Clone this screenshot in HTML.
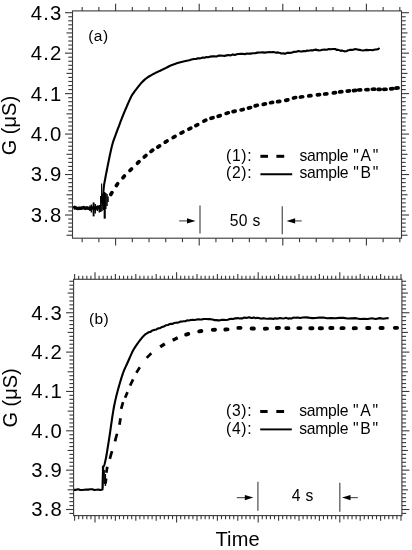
<!DOCTYPE html>
<html><head><meta charset="utf-8"><style>
html,body{margin:0;padding:0;background:#fff;}
body{width:412px;height:550px;overflow:hidden;}
svg{display:block;filter:blur(0.3px);}
text{font-family:"Liberation Sans",sans-serif;fill:#000;}
.tl{font-size:20.3px;letter-spacing:1.1px;}
.lp{font-size:15.7px;letter-spacing:0.7px;}
.lg{font-size:15.7px;letter-spacing:0.25px;}
.lg0{font-size:15.7px;letter-spacing:-0.3px;}
.lq{font-size:15.7px;letter-spacing:1.7px;}
.pl{font-size:15.5px;letter-spacing:0.4px;}
.ax{font-size:20px;}
</style></head><body>
<svg width="412" height="550" viewBox="0 0 412 550">
<rect x="72.5" y="10.9" width="329" height="227.3" fill="none" stroke="#3a3a3a" stroke-width="1.1"/>
<line x1="66.5" y1="235.23" x2="72.5" y2="235.23" stroke="#383838" stroke-width="1.1"/>
<line x1="401.5" y1="235.23" x2="407.5" y2="235.23" stroke="#383838" stroke-width="1.1"/>
<line x1="68.3" y1="231.18" x2="72.5" y2="231.18" stroke="#383838" stroke-width="1.1"/>
<line x1="401.5" y1="231.18" x2="405.7" y2="231.18" stroke="#383838" stroke-width="1.1"/>
<line x1="68.3" y1="227.14" x2="72.5" y2="227.14" stroke="#383838" stroke-width="1.1"/>
<line x1="401.5" y1="227.14" x2="405.7" y2="227.14" stroke="#383838" stroke-width="1.1"/>
<line x1="68.3" y1="223.09" x2="72.5" y2="223.09" stroke="#383838" stroke-width="1.1"/>
<line x1="401.5" y1="223.09" x2="405.7" y2="223.09" stroke="#383838" stroke-width="1.1"/>
<line x1="68.3" y1="219.05" x2="72.5" y2="219.05" stroke="#383838" stroke-width="1.1"/>
<line x1="401.5" y1="219.05" x2="405.7" y2="219.05" stroke="#383838" stroke-width="1.1"/>
<line x1="65" y1="215" x2="72.5" y2="215" stroke="#383838" stroke-width="1.1"/>
<line x1="401.5" y1="215" x2="409" y2="215" stroke="#383838" stroke-width="1.1"/>
<line x1="68.3" y1="210.95" x2="72.5" y2="210.95" stroke="#383838" stroke-width="1.1"/>
<line x1="401.5" y1="210.95" x2="405.7" y2="210.95" stroke="#383838" stroke-width="1.1"/>
<line x1="68.3" y1="206.91" x2="72.5" y2="206.91" stroke="#383838" stroke-width="1.1"/>
<line x1="401.5" y1="206.91" x2="405.7" y2="206.91" stroke="#383838" stroke-width="1.1"/>
<line x1="68.3" y1="202.86" x2="72.5" y2="202.86" stroke="#383838" stroke-width="1.1"/>
<line x1="401.5" y1="202.86" x2="405.7" y2="202.86" stroke="#383838" stroke-width="1.1"/>
<line x1="68.3" y1="198.82" x2="72.5" y2="198.82" stroke="#383838" stroke-width="1.1"/>
<line x1="401.5" y1="198.82" x2="405.7" y2="198.82" stroke="#383838" stroke-width="1.1"/>
<line x1="66.5" y1="194.77" x2="72.5" y2="194.77" stroke="#383838" stroke-width="1.1"/>
<line x1="401.5" y1="194.77" x2="407.5" y2="194.77" stroke="#383838" stroke-width="1.1"/>
<line x1="68.3" y1="190.72" x2="72.5" y2="190.72" stroke="#383838" stroke-width="1.1"/>
<line x1="401.5" y1="190.72" x2="405.7" y2="190.72" stroke="#383838" stroke-width="1.1"/>
<line x1="68.3" y1="186.68" x2="72.5" y2="186.68" stroke="#383838" stroke-width="1.1"/>
<line x1="401.5" y1="186.68" x2="405.7" y2="186.68" stroke="#383838" stroke-width="1.1"/>
<line x1="68.3" y1="182.63" x2="72.5" y2="182.63" stroke="#383838" stroke-width="1.1"/>
<line x1="401.5" y1="182.63" x2="405.7" y2="182.63" stroke="#383838" stroke-width="1.1"/>
<line x1="68.3" y1="178.59" x2="72.5" y2="178.59" stroke="#383838" stroke-width="1.1"/>
<line x1="401.5" y1="178.59" x2="405.7" y2="178.59" stroke="#383838" stroke-width="1.1"/>
<line x1="65" y1="174.54" x2="72.5" y2="174.54" stroke="#383838" stroke-width="1.1"/>
<line x1="401.5" y1="174.54" x2="409" y2="174.54" stroke="#383838" stroke-width="1.1"/>
<line x1="68.3" y1="170.49" x2="72.5" y2="170.49" stroke="#383838" stroke-width="1.1"/>
<line x1="401.5" y1="170.49" x2="405.7" y2="170.49" stroke="#383838" stroke-width="1.1"/>
<line x1="68.3" y1="166.45" x2="72.5" y2="166.45" stroke="#383838" stroke-width="1.1"/>
<line x1="401.5" y1="166.45" x2="405.7" y2="166.45" stroke="#383838" stroke-width="1.1"/>
<line x1="68.3" y1="162.4" x2="72.5" y2="162.4" stroke="#383838" stroke-width="1.1"/>
<line x1="401.5" y1="162.4" x2="405.7" y2="162.4" stroke="#383838" stroke-width="1.1"/>
<line x1="68.3" y1="158.36" x2="72.5" y2="158.36" stroke="#383838" stroke-width="1.1"/>
<line x1="401.5" y1="158.36" x2="405.7" y2="158.36" stroke="#383838" stroke-width="1.1"/>
<line x1="66.5" y1="154.31" x2="72.5" y2="154.31" stroke="#383838" stroke-width="1.1"/>
<line x1="401.5" y1="154.31" x2="407.5" y2="154.31" stroke="#383838" stroke-width="1.1"/>
<line x1="68.3" y1="150.26" x2="72.5" y2="150.26" stroke="#383838" stroke-width="1.1"/>
<line x1="401.5" y1="150.26" x2="405.7" y2="150.26" stroke="#383838" stroke-width="1.1"/>
<line x1="68.3" y1="146.22" x2="72.5" y2="146.22" stroke="#383838" stroke-width="1.1"/>
<line x1="401.5" y1="146.22" x2="405.7" y2="146.22" stroke="#383838" stroke-width="1.1"/>
<line x1="68.3" y1="142.17" x2="72.5" y2="142.17" stroke="#383838" stroke-width="1.1"/>
<line x1="401.5" y1="142.17" x2="405.7" y2="142.17" stroke="#383838" stroke-width="1.1"/>
<line x1="68.3" y1="138.13" x2="72.5" y2="138.13" stroke="#383838" stroke-width="1.1"/>
<line x1="401.5" y1="138.13" x2="405.7" y2="138.13" stroke="#383838" stroke-width="1.1"/>
<line x1="65" y1="134.08" x2="72.5" y2="134.08" stroke="#383838" stroke-width="1.1"/>
<line x1="401.5" y1="134.08" x2="409" y2="134.08" stroke="#383838" stroke-width="1.1"/>
<line x1="68.3" y1="130.03" x2="72.5" y2="130.03" stroke="#383838" stroke-width="1.1"/>
<line x1="401.5" y1="130.03" x2="405.7" y2="130.03" stroke="#383838" stroke-width="1.1"/>
<line x1="68.3" y1="125.99" x2="72.5" y2="125.99" stroke="#383838" stroke-width="1.1"/>
<line x1="401.5" y1="125.99" x2="405.7" y2="125.99" stroke="#383838" stroke-width="1.1"/>
<line x1="68.3" y1="121.94" x2="72.5" y2="121.94" stroke="#383838" stroke-width="1.1"/>
<line x1="401.5" y1="121.94" x2="405.7" y2="121.94" stroke="#383838" stroke-width="1.1"/>
<line x1="68.3" y1="117.9" x2="72.5" y2="117.9" stroke="#383838" stroke-width="1.1"/>
<line x1="401.5" y1="117.9" x2="405.7" y2="117.9" stroke="#383838" stroke-width="1.1"/>
<line x1="66.5" y1="113.85" x2="72.5" y2="113.85" stroke="#383838" stroke-width="1.1"/>
<line x1="401.5" y1="113.85" x2="407.5" y2="113.85" stroke="#383838" stroke-width="1.1"/>
<line x1="68.3" y1="109.8" x2="72.5" y2="109.8" stroke="#383838" stroke-width="1.1"/>
<line x1="401.5" y1="109.8" x2="405.7" y2="109.8" stroke="#383838" stroke-width="1.1"/>
<line x1="68.3" y1="105.76" x2="72.5" y2="105.76" stroke="#383838" stroke-width="1.1"/>
<line x1="401.5" y1="105.76" x2="405.7" y2="105.76" stroke="#383838" stroke-width="1.1"/>
<line x1="68.3" y1="101.71" x2="72.5" y2="101.71" stroke="#383838" stroke-width="1.1"/>
<line x1="401.5" y1="101.71" x2="405.7" y2="101.71" stroke="#383838" stroke-width="1.1"/>
<line x1="68.3" y1="97.67" x2="72.5" y2="97.67" stroke="#383838" stroke-width="1.1"/>
<line x1="401.5" y1="97.67" x2="405.7" y2="97.67" stroke="#383838" stroke-width="1.1"/>
<line x1="65" y1="93.62" x2="72.5" y2="93.62" stroke="#383838" stroke-width="1.1"/>
<line x1="401.5" y1="93.62" x2="409" y2="93.62" stroke="#383838" stroke-width="1.1"/>
<line x1="68.3" y1="89.57" x2="72.5" y2="89.57" stroke="#383838" stroke-width="1.1"/>
<line x1="401.5" y1="89.57" x2="405.7" y2="89.57" stroke="#383838" stroke-width="1.1"/>
<line x1="68.3" y1="85.53" x2="72.5" y2="85.53" stroke="#383838" stroke-width="1.1"/>
<line x1="401.5" y1="85.53" x2="405.7" y2="85.53" stroke="#383838" stroke-width="1.1"/>
<line x1="68.3" y1="81.48" x2="72.5" y2="81.48" stroke="#383838" stroke-width="1.1"/>
<line x1="401.5" y1="81.48" x2="405.7" y2="81.48" stroke="#383838" stroke-width="1.1"/>
<line x1="68.3" y1="77.44" x2="72.5" y2="77.44" stroke="#383838" stroke-width="1.1"/>
<line x1="401.5" y1="77.44" x2="405.7" y2="77.44" stroke="#383838" stroke-width="1.1"/>
<line x1="66.5" y1="73.39" x2="72.5" y2="73.39" stroke="#383838" stroke-width="1.1"/>
<line x1="401.5" y1="73.39" x2="407.5" y2="73.39" stroke="#383838" stroke-width="1.1"/>
<line x1="68.3" y1="69.34" x2="72.5" y2="69.34" stroke="#383838" stroke-width="1.1"/>
<line x1="401.5" y1="69.34" x2="405.7" y2="69.34" stroke="#383838" stroke-width="1.1"/>
<line x1="68.3" y1="65.3" x2="72.5" y2="65.3" stroke="#383838" stroke-width="1.1"/>
<line x1="401.5" y1="65.3" x2="405.7" y2="65.3" stroke="#383838" stroke-width="1.1"/>
<line x1="68.3" y1="61.25" x2="72.5" y2="61.25" stroke="#383838" stroke-width="1.1"/>
<line x1="401.5" y1="61.25" x2="405.7" y2="61.25" stroke="#383838" stroke-width="1.1"/>
<line x1="68.3" y1="57.21" x2="72.5" y2="57.21" stroke="#383838" stroke-width="1.1"/>
<line x1="401.5" y1="57.21" x2="405.7" y2="57.21" stroke="#383838" stroke-width="1.1"/>
<line x1="65" y1="53.16" x2="72.5" y2="53.16" stroke="#383838" stroke-width="1.1"/>
<line x1="401.5" y1="53.16" x2="409" y2="53.16" stroke="#383838" stroke-width="1.1"/>
<line x1="68.3" y1="49.11" x2="72.5" y2="49.11" stroke="#383838" stroke-width="1.1"/>
<line x1="401.5" y1="49.11" x2="405.7" y2="49.11" stroke="#383838" stroke-width="1.1"/>
<line x1="68.3" y1="45.07" x2="72.5" y2="45.07" stroke="#383838" stroke-width="1.1"/>
<line x1="401.5" y1="45.07" x2="405.7" y2="45.07" stroke="#383838" stroke-width="1.1"/>
<line x1="68.3" y1="41.02" x2="72.5" y2="41.02" stroke="#383838" stroke-width="1.1"/>
<line x1="401.5" y1="41.02" x2="405.7" y2="41.02" stroke="#383838" stroke-width="1.1"/>
<line x1="68.3" y1="36.98" x2="72.5" y2="36.98" stroke="#383838" stroke-width="1.1"/>
<line x1="401.5" y1="36.98" x2="405.7" y2="36.98" stroke="#383838" stroke-width="1.1"/>
<line x1="66.5" y1="32.93" x2="72.5" y2="32.93" stroke="#383838" stroke-width="1.1"/>
<line x1="401.5" y1="32.93" x2="407.5" y2="32.93" stroke="#383838" stroke-width="1.1"/>
<line x1="68.3" y1="28.88" x2="72.5" y2="28.88" stroke="#383838" stroke-width="1.1"/>
<line x1="401.5" y1="28.88" x2="405.7" y2="28.88" stroke="#383838" stroke-width="1.1"/>
<line x1="68.3" y1="24.84" x2="72.5" y2="24.84" stroke="#383838" stroke-width="1.1"/>
<line x1="401.5" y1="24.84" x2="405.7" y2="24.84" stroke="#383838" stroke-width="1.1"/>
<line x1="68.3" y1="20.79" x2="72.5" y2="20.79" stroke="#383838" stroke-width="1.1"/>
<line x1="401.5" y1="20.79" x2="405.7" y2="20.79" stroke="#383838" stroke-width="1.1"/>
<line x1="68.3" y1="16.75" x2="72.5" y2="16.75" stroke="#383838" stroke-width="1.1"/>
<line x1="401.5" y1="16.75" x2="405.7" y2="16.75" stroke="#383838" stroke-width="1.1"/>
<line x1="65" y1="12.7" x2="72.5" y2="12.7" stroke="#383838" stroke-width="1.1"/>
<line x1="401.5" y1="12.7" x2="409" y2="12.7" stroke="#383838" stroke-width="1.1"/>
<line x1="82.16" y1="6.9" x2="82.16" y2="10.9" stroke="#383838" stroke-width="1.1"/>
<line x1="82.16" y1="238.2" x2="82.16" y2="242.2" stroke="#383838" stroke-width="1.1"/>
<line x1="98.88" y1="6.9" x2="98.88" y2="10.9" stroke="#383838" stroke-width="1.1"/>
<line x1="98.88" y1="238.2" x2="98.88" y2="242.2" stroke="#383838" stroke-width="1.1"/>
<line x1="115.6" y1="3.7" x2="115.6" y2="10.9" stroke="#383838" stroke-width="1.1"/>
<line x1="115.6" y1="238.2" x2="115.6" y2="245.4" stroke="#383838" stroke-width="1.1"/>
<line x1="132.32" y1="6.9" x2="132.32" y2="10.9" stroke="#383838" stroke-width="1.1"/>
<line x1="132.32" y1="238.2" x2="132.32" y2="242.2" stroke="#383838" stroke-width="1.1"/>
<line x1="149.04" y1="6.9" x2="149.04" y2="10.9" stroke="#383838" stroke-width="1.1"/>
<line x1="149.04" y1="238.2" x2="149.04" y2="242.2" stroke="#383838" stroke-width="1.1"/>
<line x1="165.76" y1="6.9" x2="165.76" y2="10.9" stroke="#383838" stroke-width="1.1"/>
<line x1="165.76" y1="238.2" x2="165.76" y2="242.2" stroke="#383838" stroke-width="1.1"/>
<line x1="182.48" y1="6.9" x2="182.48" y2="10.9" stroke="#383838" stroke-width="1.1"/>
<line x1="182.48" y1="238.2" x2="182.48" y2="242.2" stroke="#383838" stroke-width="1.1"/>
<line x1="199.2" y1="3.7" x2="199.2" y2="10.9" stroke="#383838" stroke-width="1.1"/>
<line x1="199.2" y1="238.2" x2="199.2" y2="245.4" stroke="#383838" stroke-width="1.1"/>
<line x1="215.92" y1="6.9" x2="215.92" y2="10.9" stroke="#383838" stroke-width="1.1"/>
<line x1="215.92" y1="238.2" x2="215.92" y2="242.2" stroke="#383838" stroke-width="1.1"/>
<line x1="232.64" y1="6.9" x2="232.64" y2="10.9" stroke="#383838" stroke-width="1.1"/>
<line x1="232.64" y1="238.2" x2="232.64" y2="242.2" stroke="#383838" stroke-width="1.1"/>
<line x1="249.36" y1="6.9" x2="249.36" y2="10.9" stroke="#383838" stroke-width="1.1"/>
<line x1="249.36" y1="238.2" x2="249.36" y2="242.2" stroke="#383838" stroke-width="1.1"/>
<line x1="266.08" y1="6.9" x2="266.08" y2="10.9" stroke="#383838" stroke-width="1.1"/>
<line x1="266.08" y1="238.2" x2="266.08" y2="242.2" stroke="#383838" stroke-width="1.1"/>
<line x1="282.8" y1="3.7" x2="282.8" y2="10.9" stroke="#383838" stroke-width="1.1"/>
<line x1="282.8" y1="238.2" x2="282.8" y2="245.4" stroke="#383838" stroke-width="1.1"/>
<line x1="299.52" y1="6.9" x2="299.52" y2="10.9" stroke="#383838" stroke-width="1.1"/>
<line x1="299.52" y1="238.2" x2="299.52" y2="242.2" stroke="#383838" stroke-width="1.1"/>
<line x1="316.24" y1="6.9" x2="316.24" y2="10.9" stroke="#383838" stroke-width="1.1"/>
<line x1="316.24" y1="238.2" x2="316.24" y2="242.2" stroke="#383838" stroke-width="1.1"/>
<line x1="332.96" y1="6.9" x2="332.96" y2="10.9" stroke="#383838" stroke-width="1.1"/>
<line x1="332.96" y1="238.2" x2="332.96" y2="242.2" stroke="#383838" stroke-width="1.1"/>
<line x1="349.68" y1="6.9" x2="349.68" y2="10.9" stroke="#383838" stroke-width="1.1"/>
<line x1="349.68" y1="238.2" x2="349.68" y2="242.2" stroke="#383838" stroke-width="1.1"/>
<line x1="366.4" y1="3.7" x2="366.4" y2="10.9" stroke="#383838" stroke-width="1.1"/>
<line x1="366.4" y1="238.2" x2="366.4" y2="245.4" stroke="#383838" stroke-width="1.1"/>
<line x1="383.12" y1="6.9" x2="383.12" y2="10.9" stroke="#383838" stroke-width="1.1"/>
<line x1="383.12" y1="238.2" x2="383.12" y2="242.2" stroke="#383838" stroke-width="1.1"/>
<line x1="399.84" y1="6.9" x2="399.84" y2="10.9" stroke="#383838" stroke-width="1.1"/>
<line x1="399.84" y1="238.2" x2="399.84" y2="242.2" stroke="#383838" stroke-width="1.1"/>
<text x="62.3" y="19.6" class="tl" text-anchor="end">4.3</text>
<text x="62.3" y="60.06" class="tl" text-anchor="end">4.2</text>
<text x="62.3" y="100.52" class="tl" text-anchor="end">4.1</text>
<text x="62.3" y="140.98" class="tl" text-anchor="end">4.0</text>
<text x="62.3" y="181.44" class="tl" text-anchor="end">3.9</text>
<text x="62.3" y="221.9" class="tl" text-anchor="end">3.8</text>
<rect x="73.6" y="279.3" width="328.3" height="236.3" fill="none" stroke="#3a3a3a" stroke-width="1.1"/>
<line x1="69.4" y1="513.43" x2="73.6" y2="513.43" stroke="#383838" stroke-width="1.1"/>
<line x1="401.9" y1="513.43" x2="406.1" y2="513.43" stroke="#383838" stroke-width="1.1"/>
<line x1="66.1" y1="509.5" x2="73.6" y2="509.5" stroke="#383838" stroke-width="1.1"/>
<line x1="401.9" y1="509.5" x2="409.4" y2="509.5" stroke="#383838" stroke-width="1.1"/>
<line x1="69.4" y1="505.56" x2="73.6" y2="505.56" stroke="#383838" stroke-width="1.1"/>
<line x1="401.9" y1="505.56" x2="406.1" y2="505.56" stroke="#383838" stroke-width="1.1"/>
<line x1="69.4" y1="501.63" x2="73.6" y2="501.63" stroke="#383838" stroke-width="1.1"/>
<line x1="401.9" y1="501.63" x2="406.1" y2="501.63" stroke="#383838" stroke-width="1.1"/>
<line x1="69.4" y1="497.69" x2="73.6" y2="497.69" stroke="#383838" stroke-width="1.1"/>
<line x1="401.9" y1="497.69" x2="406.1" y2="497.69" stroke="#383838" stroke-width="1.1"/>
<line x1="69.4" y1="493.76" x2="73.6" y2="493.76" stroke="#383838" stroke-width="1.1"/>
<line x1="401.9" y1="493.76" x2="406.1" y2="493.76" stroke="#383838" stroke-width="1.1"/>
<line x1="67.6" y1="489.82" x2="73.6" y2="489.82" stroke="#383838" stroke-width="1.1"/>
<line x1="401.9" y1="489.82" x2="407.9" y2="489.82" stroke="#383838" stroke-width="1.1"/>
<line x1="69.4" y1="485.89" x2="73.6" y2="485.89" stroke="#383838" stroke-width="1.1"/>
<line x1="401.9" y1="485.89" x2="406.1" y2="485.89" stroke="#383838" stroke-width="1.1"/>
<line x1="69.4" y1="481.95" x2="73.6" y2="481.95" stroke="#383838" stroke-width="1.1"/>
<line x1="401.9" y1="481.95" x2="406.1" y2="481.95" stroke="#383838" stroke-width="1.1"/>
<line x1="69.4" y1="478.02" x2="73.6" y2="478.02" stroke="#383838" stroke-width="1.1"/>
<line x1="401.9" y1="478.02" x2="406.1" y2="478.02" stroke="#383838" stroke-width="1.1"/>
<line x1="69.4" y1="474.08" x2="73.6" y2="474.08" stroke="#383838" stroke-width="1.1"/>
<line x1="401.9" y1="474.08" x2="406.1" y2="474.08" stroke="#383838" stroke-width="1.1"/>
<line x1="66.1" y1="470.15" x2="73.6" y2="470.15" stroke="#383838" stroke-width="1.1"/>
<line x1="401.9" y1="470.15" x2="409.4" y2="470.15" stroke="#383838" stroke-width="1.1"/>
<line x1="69.4" y1="466.21" x2="73.6" y2="466.21" stroke="#383838" stroke-width="1.1"/>
<line x1="401.9" y1="466.21" x2="406.1" y2="466.21" stroke="#383838" stroke-width="1.1"/>
<line x1="69.4" y1="462.28" x2="73.6" y2="462.28" stroke="#383838" stroke-width="1.1"/>
<line x1="401.9" y1="462.28" x2="406.1" y2="462.28" stroke="#383838" stroke-width="1.1"/>
<line x1="69.4" y1="458.34" x2="73.6" y2="458.34" stroke="#383838" stroke-width="1.1"/>
<line x1="401.9" y1="458.34" x2="406.1" y2="458.34" stroke="#383838" stroke-width="1.1"/>
<line x1="69.4" y1="454.41" x2="73.6" y2="454.41" stroke="#383838" stroke-width="1.1"/>
<line x1="401.9" y1="454.41" x2="406.1" y2="454.41" stroke="#383838" stroke-width="1.1"/>
<line x1="67.6" y1="450.47" x2="73.6" y2="450.47" stroke="#383838" stroke-width="1.1"/>
<line x1="401.9" y1="450.47" x2="407.9" y2="450.47" stroke="#383838" stroke-width="1.1"/>
<line x1="69.4" y1="446.54" x2="73.6" y2="446.54" stroke="#383838" stroke-width="1.1"/>
<line x1="401.9" y1="446.54" x2="406.1" y2="446.54" stroke="#383838" stroke-width="1.1"/>
<line x1="69.4" y1="442.6" x2="73.6" y2="442.6" stroke="#383838" stroke-width="1.1"/>
<line x1="401.9" y1="442.6" x2="406.1" y2="442.6" stroke="#383838" stroke-width="1.1"/>
<line x1="69.4" y1="438.67" x2="73.6" y2="438.67" stroke="#383838" stroke-width="1.1"/>
<line x1="401.9" y1="438.67" x2="406.1" y2="438.67" stroke="#383838" stroke-width="1.1"/>
<line x1="69.4" y1="434.73" x2="73.6" y2="434.73" stroke="#383838" stroke-width="1.1"/>
<line x1="401.9" y1="434.73" x2="406.1" y2="434.73" stroke="#383838" stroke-width="1.1"/>
<line x1="66.1" y1="430.8" x2="73.6" y2="430.8" stroke="#383838" stroke-width="1.1"/>
<line x1="401.9" y1="430.8" x2="409.4" y2="430.8" stroke="#383838" stroke-width="1.1"/>
<line x1="69.4" y1="426.87" x2="73.6" y2="426.87" stroke="#383838" stroke-width="1.1"/>
<line x1="401.9" y1="426.87" x2="406.1" y2="426.87" stroke="#383838" stroke-width="1.1"/>
<line x1="69.4" y1="422.93" x2="73.6" y2="422.93" stroke="#383838" stroke-width="1.1"/>
<line x1="401.9" y1="422.93" x2="406.1" y2="422.93" stroke="#383838" stroke-width="1.1"/>
<line x1="69.4" y1="418.99" x2="73.6" y2="418.99" stroke="#383838" stroke-width="1.1"/>
<line x1="401.9" y1="418.99" x2="406.1" y2="418.99" stroke="#383838" stroke-width="1.1"/>
<line x1="69.4" y1="415.06" x2="73.6" y2="415.06" stroke="#383838" stroke-width="1.1"/>
<line x1="401.9" y1="415.06" x2="406.1" y2="415.06" stroke="#383838" stroke-width="1.1"/>
<line x1="67.6" y1="411.12" x2="73.6" y2="411.12" stroke="#383838" stroke-width="1.1"/>
<line x1="401.9" y1="411.12" x2="407.9" y2="411.12" stroke="#383838" stroke-width="1.1"/>
<line x1="69.4" y1="407.19" x2="73.6" y2="407.19" stroke="#383838" stroke-width="1.1"/>
<line x1="401.9" y1="407.19" x2="406.1" y2="407.19" stroke="#383838" stroke-width="1.1"/>
<line x1="69.4" y1="403.25" x2="73.6" y2="403.25" stroke="#383838" stroke-width="1.1"/>
<line x1="401.9" y1="403.25" x2="406.1" y2="403.25" stroke="#383838" stroke-width="1.1"/>
<line x1="69.4" y1="399.32" x2="73.6" y2="399.32" stroke="#383838" stroke-width="1.1"/>
<line x1="401.9" y1="399.32" x2="406.1" y2="399.32" stroke="#383838" stroke-width="1.1"/>
<line x1="69.4" y1="395.38" x2="73.6" y2="395.38" stroke="#383838" stroke-width="1.1"/>
<line x1="401.9" y1="395.38" x2="406.1" y2="395.38" stroke="#383838" stroke-width="1.1"/>
<line x1="66.1" y1="391.45" x2="73.6" y2="391.45" stroke="#383838" stroke-width="1.1"/>
<line x1="401.9" y1="391.45" x2="409.4" y2="391.45" stroke="#383838" stroke-width="1.1"/>
<line x1="69.4" y1="387.51" x2="73.6" y2="387.51" stroke="#383838" stroke-width="1.1"/>
<line x1="401.9" y1="387.51" x2="406.1" y2="387.51" stroke="#383838" stroke-width="1.1"/>
<line x1="69.4" y1="383.58" x2="73.6" y2="383.58" stroke="#383838" stroke-width="1.1"/>
<line x1="401.9" y1="383.58" x2="406.1" y2="383.58" stroke="#383838" stroke-width="1.1"/>
<line x1="69.4" y1="379.64" x2="73.6" y2="379.64" stroke="#383838" stroke-width="1.1"/>
<line x1="401.9" y1="379.64" x2="406.1" y2="379.64" stroke="#383838" stroke-width="1.1"/>
<line x1="69.4" y1="375.71" x2="73.6" y2="375.71" stroke="#383838" stroke-width="1.1"/>
<line x1="401.9" y1="375.71" x2="406.1" y2="375.71" stroke="#383838" stroke-width="1.1"/>
<line x1="67.6" y1="371.77" x2="73.6" y2="371.77" stroke="#383838" stroke-width="1.1"/>
<line x1="401.9" y1="371.77" x2="407.9" y2="371.77" stroke="#383838" stroke-width="1.1"/>
<line x1="69.4" y1="367.84" x2="73.6" y2="367.84" stroke="#383838" stroke-width="1.1"/>
<line x1="401.9" y1="367.84" x2="406.1" y2="367.84" stroke="#383838" stroke-width="1.1"/>
<line x1="69.4" y1="363.9" x2="73.6" y2="363.9" stroke="#383838" stroke-width="1.1"/>
<line x1="401.9" y1="363.9" x2="406.1" y2="363.9" stroke="#383838" stroke-width="1.1"/>
<line x1="69.4" y1="359.97" x2="73.6" y2="359.97" stroke="#383838" stroke-width="1.1"/>
<line x1="401.9" y1="359.97" x2="406.1" y2="359.97" stroke="#383838" stroke-width="1.1"/>
<line x1="69.4" y1="356.03" x2="73.6" y2="356.03" stroke="#383838" stroke-width="1.1"/>
<line x1="401.9" y1="356.03" x2="406.1" y2="356.03" stroke="#383838" stroke-width="1.1"/>
<line x1="66.1" y1="352.1" x2="73.6" y2="352.1" stroke="#383838" stroke-width="1.1"/>
<line x1="401.9" y1="352.1" x2="409.4" y2="352.1" stroke="#383838" stroke-width="1.1"/>
<line x1="69.4" y1="348.16" x2="73.6" y2="348.16" stroke="#383838" stroke-width="1.1"/>
<line x1="401.9" y1="348.16" x2="406.1" y2="348.16" stroke="#383838" stroke-width="1.1"/>
<line x1="69.4" y1="344.23" x2="73.6" y2="344.23" stroke="#383838" stroke-width="1.1"/>
<line x1="401.9" y1="344.23" x2="406.1" y2="344.23" stroke="#383838" stroke-width="1.1"/>
<line x1="69.4" y1="340.29" x2="73.6" y2="340.29" stroke="#383838" stroke-width="1.1"/>
<line x1="401.9" y1="340.29" x2="406.1" y2="340.29" stroke="#383838" stroke-width="1.1"/>
<line x1="69.4" y1="336.36" x2="73.6" y2="336.36" stroke="#383838" stroke-width="1.1"/>
<line x1="401.9" y1="336.36" x2="406.1" y2="336.36" stroke="#383838" stroke-width="1.1"/>
<line x1="67.6" y1="332.42" x2="73.6" y2="332.42" stroke="#383838" stroke-width="1.1"/>
<line x1="401.9" y1="332.42" x2="407.9" y2="332.42" stroke="#383838" stroke-width="1.1"/>
<line x1="69.4" y1="328.49" x2="73.6" y2="328.49" stroke="#383838" stroke-width="1.1"/>
<line x1="401.9" y1="328.49" x2="406.1" y2="328.49" stroke="#383838" stroke-width="1.1"/>
<line x1="69.4" y1="324.56" x2="73.6" y2="324.56" stroke="#383838" stroke-width="1.1"/>
<line x1="401.9" y1="324.56" x2="406.1" y2="324.56" stroke="#383838" stroke-width="1.1"/>
<line x1="69.4" y1="320.62" x2="73.6" y2="320.62" stroke="#383838" stroke-width="1.1"/>
<line x1="401.9" y1="320.62" x2="406.1" y2="320.62" stroke="#383838" stroke-width="1.1"/>
<line x1="69.4" y1="316.68" x2="73.6" y2="316.68" stroke="#383838" stroke-width="1.1"/>
<line x1="401.9" y1="316.68" x2="406.1" y2="316.68" stroke="#383838" stroke-width="1.1"/>
<line x1="66.1" y1="312.75" x2="73.6" y2="312.75" stroke="#383838" stroke-width="1.1"/>
<line x1="401.9" y1="312.75" x2="409.4" y2="312.75" stroke="#383838" stroke-width="1.1"/>
<line x1="69.4" y1="308.82" x2="73.6" y2="308.82" stroke="#383838" stroke-width="1.1"/>
<line x1="401.9" y1="308.82" x2="406.1" y2="308.82" stroke="#383838" stroke-width="1.1"/>
<line x1="69.4" y1="304.88" x2="73.6" y2="304.88" stroke="#383838" stroke-width="1.1"/>
<line x1="401.9" y1="304.88" x2="406.1" y2="304.88" stroke="#383838" stroke-width="1.1"/>
<line x1="69.4" y1="300.94" x2="73.6" y2="300.94" stroke="#383838" stroke-width="1.1"/>
<line x1="401.9" y1="300.94" x2="406.1" y2="300.94" stroke="#383838" stroke-width="1.1"/>
<line x1="69.4" y1="297.01" x2="73.6" y2="297.01" stroke="#383838" stroke-width="1.1"/>
<line x1="401.9" y1="297.01" x2="406.1" y2="297.01" stroke="#383838" stroke-width="1.1"/>
<line x1="67.6" y1="293.08" x2="73.6" y2="293.08" stroke="#383838" stroke-width="1.1"/>
<line x1="401.9" y1="293.08" x2="407.9" y2="293.08" stroke="#383838" stroke-width="1.1"/>
<line x1="69.4" y1="289.14" x2="73.6" y2="289.14" stroke="#383838" stroke-width="1.1"/>
<line x1="401.9" y1="289.14" x2="406.1" y2="289.14" stroke="#383838" stroke-width="1.1"/>
<line x1="69.4" y1="285.2" x2="73.6" y2="285.2" stroke="#383838" stroke-width="1.1"/>
<line x1="401.9" y1="285.2" x2="406.1" y2="285.2" stroke="#383838" stroke-width="1.1"/>
<line x1="69.4" y1="281.27" x2="73.6" y2="281.27" stroke="#383838" stroke-width="1.1"/>
<line x1="401.9" y1="281.27" x2="406.1" y2="281.27" stroke="#383838" stroke-width="1.1"/>
<line x1="74.6" y1="274.1" x2="74.6" y2="279.3" stroke="#383838" stroke-width="1.1"/>
<line x1="74.6" y1="515.6" x2="74.6" y2="520.8" stroke="#383838" stroke-width="1.1"/>
<line x1="78.68" y1="275.7" x2="78.68" y2="279.3" stroke="#383838" stroke-width="1.1"/>
<line x1="78.68" y1="515.6" x2="78.68" y2="519.2" stroke="#383838" stroke-width="1.1"/>
<line x1="82.76" y1="275.7" x2="82.76" y2="279.3" stroke="#383838" stroke-width="1.1"/>
<line x1="82.76" y1="515.6" x2="82.76" y2="519.2" stroke="#383838" stroke-width="1.1"/>
<line x1="86.84" y1="275.7" x2="86.84" y2="279.3" stroke="#383838" stroke-width="1.1"/>
<line x1="86.84" y1="515.6" x2="86.84" y2="519.2" stroke="#383838" stroke-width="1.1"/>
<line x1="90.92" y1="275.7" x2="90.92" y2="279.3" stroke="#383838" stroke-width="1.1"/>
<line x1="90.92" y1="515.6" x2="90.92" y2="519.2" stroke="#383838" stroke-width="1.1"/>
<line x1="95" y1="272.3" x2="95" y2="279.3" stroke="#383838" stroke-width="1.1"/>
<line x1="95" y1="515.6" x2="95" y2="522.6" stroke="#383838" stroke-width="1.1"/>
<line x1="99.08" y1="275.7" x2="99.08" y2="279.3" stroke="#383838" stroke-width="1.1"/>
<line x1="99.08" y1="515.6" x2="99.08" y2="519.2" stroke="#383838" stroke-width="1.1"/>
<line x1="103.16" y1="275.7" x2="103.16" y2="279.3" stroke="#383838" stroke-width="1.1"/>
<line x1="103.16" y1="515.6" x2="103.16" y2="519.2" stroke="#383838" stroke-width="1.1"/>
<line x1="107.24" y1="275.7" x2="107.24" y2="279.3" stroke="#383838" stroke-width="1.1"/>
<line x1="107.24" y1="515.6" x2="107.24" y2="519.2" stroke="#383838" stroke-width="1.1"/>
<line x1="111.32" y1="275.7" x2="111.32" y2="279.3" stroke="#383838" stroke-width="1.1"/>
<line x1="111.32" y1="515.6" x2="111.32" y2="519.2" stroke="#383838" stroke-width="1.1"/>
<line x1="115.4" y1="274.1" x2="115.4" y2="279.3" stroke="#383838" stroke-width="1.1"/>
<line x1="115.4" y1="515.6" x2="115.4" y2="520.8" stroke="#383838" stroke-width="1.1"/>
<line x1="119.48" y1="275.7" x2="119.48" y2="279.3" stroke="#383838" stroke-width="1.1"/>
<line x1="119.48" y1="515.6" x2="119.48" y2="519.2" stroke="#383838" stroke-width="1.1"/>
<line x1="123.56" y1="275.7" x2="123.56" y2="279.3" stroke="#383838" stroke-width="1.1"/>
<line x1="123.56" y1="515.6" x2="123.56" y2="519.2" stroke="#383838" stroke-width="1.1"/>
<line x1="127.64" y1="275.7" x2="127.64" y2="279.3" stroke="#383838" stroke-width="1.1"/>
<line x1="127.64" y1="515.6" x2="127.64" y2="519.2" stroke="#383838" stroke-width="1.1"/>
<line x1="131.72" y1="275.7" x2="131.72" y2="279.3" stroke="#383838" stroke-width="1.1"/>
<line x1="131.72" y1="515.6" x2="131.72" y2="519.2" stroke="#383838" stroke-width="1.1"/>
<line x1="135.8" y1="274.1" x2="135.8" y2="279.3" stroke="#383838" stroke-width="1.1"/>
<line x1="135.8" y1="515.6" x2="135.8" y2="520.8" stroke="#383838" stroke-width="1.1"/>
<line x1="139.88" y1="275.7" x2="139.88" y2="279.3" stroke="#383838" stroke-width="1.1"/>
<line x1="139.88" y1="515.6" x2="139.88" y2="519.2" stroke="#383838" stroke-width="1.1"/>
<line x1="143.96" y1="275.7" x2="143.96" y2="279.3" stroke="#383838" stroke-width="1.1"/>
<line x1="143.96" y1="515.6" x2="143.96" y2="519.2" stroke="#383838" stroke-width="1.1"/>
<line x1="148.04" y1="275.7" x2="148.04" y2="279.3" stroke="#383838" stroke-width="1.1"/>
<line x1="148.04" y1="515.6" x2="148.04" y2="519.2" stroke="#383838" stroke-width="1.1"/>
<line x1="152.12" y1="275.7" x2="152.12" y2="279.3" stroke="#383838" stroke-width="1.1"/>
<line x1="152.12" y1="515.6" x2="152.12" y2="519.2" stroke="#383838" stroke-width="1.1"/>
<line x1="156.2" y1="274.1" x2="156.2" y2="279.3" stroke="#383838" stroke-width="1.1"/>
<line x1="156.2" y1="515.6" x2="156.2" y2="520.8" stroke="#383838" stroke-width="1.1"/>
<line x1="160.28" y1="275.7" x2="160.28" y2="279.3" stroke="#383838" stroke-width="1.1"/>
<line x1="160.28" y1="515.6" x2="160.28" y2="519.2" stroke="#383838" stroke-width="1.1"/>
<line x1="164.36" y1="275.7" x2="164.36" y2="279.3" stroke="#383838" stroke-width="1.1"/>
<line x1="164.36" y1="515.6" x2="164.36" y2="519.2" stroke="#383838" stroke-width="1.1"/>
<line x1="168.44" y1="275.7" x2="168.44" y2="279.3" stroke="#383838" stroke-width="1.1"/>
<line x1="168.44" y1="515.6" x2="168.44" y2="519.2" stroke="#383838" stroke-width="1.1"/>
<line x1="172.52" y1="275.7" x2="172.52" y2="279.3" stroke="#383838" stroke-width="1.1"/>
<line x1="172.52" y1="515.6" x2="172.52" y2="519.2" stroke="#383838" stroke-width="1.1"/>
<line x1="176.6" y1="272.3" x2="176.6" y2="279.3" stroke="#383838" stroke-width="1.1"/>
<line x1="176.6" y1="515.6" x2="176.6" y2="522.6" stroke="#383838" stroke-width="1.1"/>
<line x1="180.68" y1="275.7" x2="180.68" y2="279.3" stroke="#383838" stroke-width="1.1"/>
<line x1="180.68" y1="515.6" x2="180.68" y2="519.2" stroke="#383838" stroke-width="1.1"/>
<line x1="184.76" y1="275.7" x2="184.76" y2="279.3" stroke="#383838" stroke-width="1.1"/>
<line x1="184.76" y1="515.6" x2="184.76" y2="519.2" stroke="#383838" stroke-width="1.1"/>
<line x1="188.84" y1="275.7" x2="188.84" y2="279.3" stroke="#383838" stroke-width="1.1"/>
<line x1="188.84" y1="515.6" x2="188.84" y2="519.2" stroke="#383838" stroke-width="1.1"/>
<line x1="192.92" y1="275.7" x2="192.92" y2="279.3" stroke="#383838" stroke-width="1.1"/>
<line x1="192.92" y1="515.6" x2="192.92" y2="519.2" stroke="#383838" stroke-width="1.1"/>
<line x1="197" y1="274.1" x2="197" y2="279.3" stroke="#383838" stroke-width="1.1"/>
<line x1="197" y1="515.6" x2="197" y2="520.8" stroke="#383838" stroke-width="1.1"/>
<line x1="201.08" y1="275.7" x2="201.08" y2="279.3" stroke="#383838" stroke-width="1.1"/>
<line x1="201.08" y1="515.6" x2="201.08" y2="519.2" stroke="#383838" stroke-width="1.1"/>
<line x1="205.16" y1="275.7" x2="205.16" y2="279.3" stroke="#383838" stroke-width="1.1"/>
<line x1="205.16" y1="515.6" x2="205.16" y2="519.2" stroke="#383838" stroke-width="1.1"/>
<line x1="209.24" y1="275.7" x2="209.24" y2="279.3" stroke="#383838" stroke-width="1.1"/>
<line x1="209.24" y1="515.6" x2="209.24" y2="519.2" stroke="#383838" stroke-width="1.1"/>
<line x1="213.32" y1="275.7" x2="213.32" y2="279.3" stroke="#383838" stroke-width="1.1"/>
<line x1="213.32" y1="515.6" x2="213.32" y2="519.2" stroke="#383838" stroke-width="1.1"/>
<line x1="217.4" y1="274.1" x2="217.4" y2="279.3" stroke="#383838" stroke-width="1.1"/>
<line x1="217.4" y1="515.6" x2="217.4" y2="520.8" stroke="#383838" stroke-width="1.1"/>
<line x1="221.48" y1="275.7" x2="221.48" y2="279.3" stroke="#383838" stroke-width="1.1"/>
<line x1="221.48" y1="515.6" x2="221.48" y2="519.2" stroke="#383838" stroke-width="1.1"/>
<line x1="225.56" y1="275.7" x2="225.56" y2="279.3" stroke="#383838" stroke-width="1.1"/>
<line x1="225.56" y1="515.6" x2="225.56" y2="519.2" stroke="#383838" stroke-width="1.1"/>
<line x1="229.64" y1="275.7" x2="229.64" y2="279.3" stroke="#383838" stroke-width="1.1"/>
<line x1="229.64" y1="515.6" x2="229.64" y2="519.2" stroke="#383838" stroke-width="1.1"/>
<line x1="233.72" y1="275.7" x2="233.72" y2="279.3" stroke="#383838" stroke-width="1.1"/>
<line x1="233.72" y1="515.6" x2="233.72" y2="519.2" stroke="#383838" stroke-width="1.1"/>
<line x1="237.8" y1="274.1" x2="237.8" y2="279.3" stroke="#383838" stroke-width="1.1"/>
<line x1="237.8" y1="515.6" x2="237.8" y2="520.8" stroke="#383838" stroke-width="1.1"/>
<line x1="241.88" y1="275.7" x2="241.88" y2="279.3" stroke="#383838" stroke-width="1.1"/>
<line x1="241.88" y1="515.6" x2="241.88" y2="519.2" stroke="#383838" stroke-width="1.1"/>
<line x1="245.96" y1="275.7" x2="245.96" y2="279.3" stroke="#383838" stroke-width="1.1"/>
<line x1="245.96" y1="515.6" x2="245.96" y2="519.2" stroke="#383838" stroke-width="1.1"/>
<line x1="250.04" y1="275.7" x2="250.04" y2="279.3" stroke="#383838" stroke-width="1.1"/>
<line x1="250.04" y1="515.6" x2="250.04" y2="519.2" stroke="#383838" stroke-width="1.1"/>
<line x1="254.12" y1="275.7" x2="254.12" y2="279.3" stroke="#383838" stroke-width="1.1"/>
<line x1="254.12" y1="515.6" x2="254.12" y2="519.2" stroke="#383838" stroke-width="1.1"/>
<line x1="258.2" y1="272.3" x2="258.2" y2="279.3" stroke="#383838" stroke-width="1.1"/>
<line x1="258.2" y1="515.6" x2="258.2" y2="522.6" stroke="#383838" stroke-width="1.1"/>
<line x1="262.28" y1="275.7" x2="262.28" y2="279.3" stroke="#383838" stroke-width="1.1"/>
<line x1="262.28" y1="515.6" x2="262.28" y2="519.2" stroke="#383838" stroke-width="1.1"/>
<line x1="266.36" y1="275.7" x2="266.36" y2="279.3" stroke="#383838" stroke-width="1.1"/>
<line x1="266.36" y1="515.6" x2="266.36" y2="519.2" stroke="#383838" stroke-width="1.1"/>
<line x1="270.44" y1="275.7" x2="270.44" y2="279.3" stroke="#383838" stroke-width="1.1"/>
<line x1="270.44" y1="515.6" x2="270.44" y2="519.2" stroke="#383838" stroke-width="1.1"/>
<line x1="274.52" y1="275.7" x2="274.52" y2="279.3" stroke="#383838" stroke-width="1.1"/>
<line x1="274.52" y1="515.6" x2="274.52" y2="519.2" stroke="#383838" stroke-width="1.1"/>
<line x1="278.6" y1="274.1" x2="278.6" y2="279.3" stroke="#383838" stroke-width="1.1"/>
<line x1="278.6" y1="515.6" x2="278.6" y2="520.8" stroke="#383838" stroke-width="1.1"/>
<line x1="282.68" y1="275.7" x2="282.68" y2="279.3" stroke="#383838" stroke-width="1.1"/>
<line x1="282.68" y1="515.6" x2="282.68" y2="519.2" stroke="#383838" stroke-width="1.1"/>
<line x1="286.76" y1="275.7" x2="286.76" y2="279.3" stroke="#383838" stroke-width="1.1"/>
<line x1="286.76" y1="515.6" x2="286.76" y2="519.2" stroke="#383838" stroke-width="1.1"/>
<line x1="290.84" y1="275.7" x2="290.84" y2="279.3" stroke="#383838" stroke-width="1.1"/>
<line x1="290.84" y1="515.6" x2="290.84" y2="519.2" stroke="#383838" stroke-width="1.1"/>
<line x1="294.92" y1="275.7" x2="294.92" y2="279.3" stroke="#383838" stroke-width="1.1"/>
<line x1="294.92" y1="515.6" x2="294.92" y2="519.2" stroke="#383838" stroke-width="1.1"/>
<line x1="299" y1="274.1" x2="299" y2="279.3" stroke="#383838" stroke-width="1.1"/>
<line x1="299" y1="515.6" x2="299" y2="520.8" stroke="#383838" stroke-width="1.1"/>
<line x1="303.08" y1="275.7" x2="303.08" y2="279.3" stroke="#383838" stroke-width="1.1"/>
<line x1="303.08" y1="515.6" x2="303.08" y2="519.2" stroke="#383838" stroke-width="1.1"/>
<line x1="307.16" y1="275.7" x2="307.16" y2="279.3" stroke="#383838" stroke-width="1.1"/>
<line x1="307.16" y1="515.6" x2="307.16" y2="519.2" stroke="#383838" stroke-width="1.1"/>
<line x1="311.24" y1="275.7" x2="311.24" y2="279.3" stroke="#383838" stroke-width="1.1"/>
<line x1="311.24" y1="515.6" x2="311.24" y2="519.2" stroke="#383838" stroke-width="1.1"/>
<line x1="315.32" y1="275.7" x2="315.32" y2="279.3" stroke="#383838" stroke-width="1.1"/>
<line x1="315.32" y1="515.6" x2="315.32" y2="519.2" stroke="#383838" stroke-width="1.1"/>
<line x1="319.4" y1="274.1" x2="319.4" y2="279.3" stroke="#383838" stroke-width="1.1"/>
<line x1="319.4" y1="515.6" x2="319.4" y2="520.8" stroke="#383838" stroke-width="1.1"/>
<line x1="323.48" y1="275.7" x2="323.48" y2="279.3" stroke="#383838" stroke-width="1.1"/>
<line x1="323.48" y1="515.6" x2="323.48" y2="519.2" stroke="#383838" stroke-width="1.1"/>
<line x1="327.56" y1="275.7" x2="327.56" y2="279.3" stroke="#383838" stroke-width="1.1"/>
<line x1="327.56" y1="515.6" x2="327.56" y2="519.2" stroke="#383838" stroke-width="1.1"/>
<line x1="331.64" y1="275.7" x2="331.64" y2="279.3" stroke="#383838" stroke-width="1.1"/>
<line x1="331.64" y1="515.6" x2="331.64" y2="519.2" stroke="#383838" stroke-width="1.1"/>
<line x1="335.72" y1="275.7" x2="335.72" y2="279.3" stroke="#383838" stroke-width="1.1"/>
<line x1="335.72" y1="515.6" x2="335.72" y2="519.2" stroke="#383838" stroke-width="1.1"/>
<line x1="339.8" y1="272.3" x2="339.8" y2="279.3" stroke="#383838" stroke-width="1.1"/>
<line x1="339.8" y1="515.6" x2="339.8" y2="522.6" stroke="#383838" stroke-width="1.1"/>
<line x1="343.88" y1="275.7" x2="343.88" y2="279.3" stroke="#383838" stroke-width="1.1"/>
<line x1="343.88" y1="515.6" x2="343.88" y2="519.2" stroke="#383838" stroke-width="1.1"/>
<line x1="347.96" y1="275.7" x2="347.96" y2="279.3" stroke="#383838" stroke-width="1.1"/>
<line x1="347.96" y1="515.6" x2="347.96" y2="519.2" stroke="#383838" stroke-width="1.1"/>
<line x1="352.04" y1="275.7" x2="352.04" y2="279.3" stroke="#383838" stroke-width="1.1"/>
<line x1="352.04" y1="515.6" x2="352.04" y2="519.2" stroke="#383838" stroke-width="1.1"/>
<line x1="356.12" y1="275.7" x2="356.12" y2="279.3" stroke="#383838" stroke-width="1.1"/>
<line x1="356.12" y1="515.6" x2="356.12" y2="519.2" stroke="#383838" stroke-width="1.1"/>
<line x1="360.2" y1="274.1" x2="360.2" y2="279.3" stroke="#383838" stroke-width="1.1"/>
<line x1="360.2" y1="515.6" x2="360.2" y2="520.8" stroke="#383838" stroke-width="1.1"/>
<line x1="364.28" y1="275.7" x2="364.28" y2="279.3" stroke="#383838" stroke-width="1.1"/>
<line x1="364.28" y1="515.6" x2="364.28" y2="519.2" stroke="#383838" stroke-width="1.1"/>
<line x1="368.36" y1="275.7" x2="368.36" y2="279.3" stroke="#383838" stroke-width="1.1"/>
<line x1="368.36" y1="515.6" x2="368.36" y2="519.2" stroke="#383838" stroke-width="1.1"/>
<line x1="372.44" y1="275.7" x2="372.44" y2="279.3" stroke="#383838" stroke-width="1.1"/>
<line x1="372.44" y1="515.6" x2="372.44" y2="519.2" stroke="#383838" stroke-width="1.1"/>
<line x1="376.52" y1="275.7" x2="376.52" y2="279.3" stroke="#383838" stroke-width="1.1"/>
<line x1="376.52" y1="515.6" x2="376.52" y2="519.2" stroke="#383838" stroke-width="1.1"/>
<line x1="380.6" y1="274.1" x2="380.6" y2="279.3" stroke="#383838" stroke-width="1.1"/>
<line x1="380.6" y1="515.6" x2="380.6" y2="520.8" stroke="#383838" stroke-width="1.1"/>
<line x1="384.68" y1="275.7" x2="384.68" y2="279.3" stroke="#383838" stroke-width="1.1"/>
<line x1="384.68" y1="515.6" x2="384.68" y2="519.2" stroke="#383838" stroke-width="1.1"/>
<line x1="388.76" y1="275.7" x2="388.76" y2="279.3" stroke="#383838" stroke-width="1.1"/>
<line x1="388.76" y1="515.6" x2="388.76" y2="519.2" stroke="#383838" stroke-width="1.1"/>
<line x1="392.84" y1="275.7" x2="392.84" y2="279.3" stroke="#383838" stroke-width="1.1"/>
<line x1="392.84" y1="515.6" x2="392.84" y2="519.2" stroke="#383838" stroke-width="1.1"/>
<line x1="396.92" y1="275.7" x2="396.92" y2="279.3" stroke="#383838" stroke-width="1.1"/>
<line x1="396.92" y1="515.6" x2="396.92" y2="519.2" stroke="#383838" stroke-width="1.1"/>
<line x1="401" y1="274.1" x2="401" y2="279.3" stroke="#383838" stroke-width="1.1"/>
<line x1="401" y1="515.6" x2="401" y2="520.8" stroke="#383838" stroke-width="1.1"/>
<text x="62.8" y="319.65" class="tl" text-anchor="end">4.3</text>
<text x="62.8" y="359" class="tl" text-anchor="end">4.2</text>
<text x="62.8" y="398.35" class="tl" text-anchor="end">4.1</text>
<text x="62.8" y="437.7" class="tl" text-anchor="end">4.0</text>
<text x="62.8" y="477.05" class="tl" text-anchor="end">3.9</text>
<text x="62.8" y="516.4" class="tl" text-anchor="end">3.8</text>
<polyline points="102.9,206 102.96,204.09 103.04,201.4 103.14,198.23 103.27,194.91 103.42,191.77 103.6,189.1 103.81,187 104.03,185.24 104.29,183.64 104.58,182.05 104.91,180.29 105.3,178.2 105.77,175.65 106.33,172.75 106.94,169.69 107.54,166.65 108.11,163.82 108.6,161.4 108.99,159.44 109.33,157.8 109.62,156.37 109.9,155.05 110.18,153.73 110.5,152.3 110.84,150.78 111.17,149.27 111.52,147.75 111.88,146.23 112.27,144.72 112.7,143.2 113.17,141.68 113.69,140.16 114.23,138.63 114.79,137.11 115.35,135.6 115.9,134.1 116.44,132.61 116.99,131.14 117.54,129.68 118.1,128.21 118.65,126.76 119.2,125.3 119.74,123.85 120.28,122.41 120.81,120.98 121.36,119.54 121.92,118.08 122.5,116.6 123.12,115.07 123.77,113.49 124.44,111.89 125.11,110.3 125.77,108.76 126.4,107.3 127.01,105.89 127.61,104.49 128.21,103.14 128.77,101.86 129.31,100.67 129.8,99.6 130.2,98.7 130.52,97.98 130.81,97.34 131.11,96.72 131.49,96.03 132,95.2 132.66,94.2 133.44,93.08 134.29,91.89 135.17,90.69 136.06,89.51 136.9,88.4 137.7,87.35 138.5,86.31 139.3,85.3 140.1,84.32 140.9,83.39 141.7,82.5 142.51,81.66 143.33,80.87 144.15,80.12 144.97,79.41 145.79,78.73 146.6,78.1 147.4,77.51 148.2,76.98 149,76.49 149.8,76.02 150.6,75.56 151.4,75.1 152.21,74.64 153.03,74.19 153.85,73.75 154.67,73.32 155.49,72.91 156.3,72.5 157.1,72.11 157.9,71.74 158.7,71.39 159.5,71.03 160.3,70.67 161.1,70.3 161.9,69.92 162.69,69.53 163.47,69.14 164.28,68.74 165.12,68.33 166,67.9 166.89,67.45 167.76,66.99 168.66,66.51 169.63,66.01 170.73,65.51 172,65 173.44,64.47 175.02,63.91 176.73,63.34 178.53,62.78 180.43,62.23 182.4,61.7 184.52,61.19 186.81,60.68 189.2,60.18 191.59,59.55 193.88,58.97 196,59.04 197.9,58.2 199.64,58.37 201.29,58 202.93,57.52 204.61,57.73 206.4,57.08 208.32,57.19 210.3,56.6 212.34,56.36 214.4,56.4 216.46,56.52 218.5,55.66 220.53,55.56 222.56,55.74 224.6,55.87 226.64,55.38 228.67,55.07 230.7,55.43 232.72,54.42 234.74,54.98 236.75,54.3 238.76,54 240.78,53.81 242.8,53.83 244.8,54.14 246.77,53.44 248.75,53.67 250.76,53.6 252.83,53.23 255,53.24 257.35,52.64 259.89,52.43 262.48,52.36 265.03,52.6 267.4,52.22 269.5,52.03 271.28,52.26 272.83,52.17 274.22,52.11 275.5,52.65 276.74,52.67 278,52.37 279.18,52.81 280.2,52.96 281.19,53.48 282.24,53.53 283.47,53.23 285,53.83 286.91,52.88 289.15,52.86 291.56,52.79 294.02,51.85 296.38,51.78 298.5,51.09 300.42,51.44 302.26,51.36 304,51.04 305.63,51.19 307.13,50.56 308.5,50.78 309.66,50.55 310.62,50.39 311.46,50.15 312.24,50.37 313.07,50.37 314,49.88 314.98,50.03 315.94,49.51 316.94,50.13 318.02,50.13 319.26,50.46 320.7,50.29 322.46,49.71 324.53,49.66 326.74,49.74 328.95,49 331.02,49.29 332.8,49 334.26,49.04 335.53,49.15 336.64,50.01 337.67,49.67 338.67,50 339.7,50.3 340.71,50.89 341.64,50.34 342.54,50.82 343.46,51.03 344.43,51.38 345.5,51.29 346.66,51.16 347.88,50.33 349.16,50.1 350.49,49.7 351.87,49.89 353.3,49.81 354.81,49.12 356.39,49.31 358.03,49.6 359.7,49.85 361.36,50.28 363,50.48 364.65,50.18 366.34,49.89 368.03,50.15 369.68,49.97 371.25,50 372.7,50.21 374.08,49.82 375.43,49.47 376.71,49.37 377.84,49.23 378.79,48.51 379.5,49.16" fill="none" stroke="#000" stroke-width="2.1" stroke-linejoin="round"/>
<line x1="110.8" y1="194.44" x2="111.97" y2="192.58" stroke="#000" stroke-width="3.7" stroke-linecap="round"/>
<line x1="116.34" y1="185.56" x2="117.64" y2="183.78" stroke="#000" stroke-width="3.7" stroke-linecap="round"/>
<line x1="122.92" y1="177.68" x2="124.42" y2="176.08" stroke="#000" stroke-width="3.7" stroke-linecap="round"/>
<line x1="129.96" y1="170.54" x2="131.52" y2="169" stroke="#000" stroke-width="3.7" stroke-linecap="round"/>
<line x1="137.47" y1="163.17" x2="139.07" y2="161.66" stroke="#000" stroke-width="3.7" stroke-linecap="round"/>
<line x1="144.27" y1="156.97" x2="145.93" y2="155.53" stroke="#000" stroke-width="3.7" stroke-linecap="round"/>
<line x1="150.98" y1="151.4" x2="152.76" y2="150.1" stroke="#000" stroke-width="3.7" stroke-linecap="round"/>
<line x1="157.77" y1="147.07" x2="159.62" y2="145.89" stroke="#000" stroke-width="3.7" stroke-linecap="round"/>
<line x1="165.23" y1="142.15" x2="167.08" y2="140.96" stroke="#000" stroke-width="3.7" stroke-linecap="round"/>
<line x1="173.16" y1="137.49" x2="175.06" y2="136.38" stroke="#000" stroke-width="3.7" stroke-linecap="round"/>
<line x1="181.02" y1="133.03" x2="182.97" y2="132.02" stroke="#000" stroke-width="3.7" stroke-linecap="round"/>
<line x1="188.87" y1="129.16" x2="190.83" y2="128.16" stroke="#000" stroke-width="3.7" stroke-linecap="round"/>
<line x1="195.82" y1="125.63" x2="197.75" y2="124.58" stroke="#000" stroke-width="3.7" stroke-linecap="round"/>
<line x1="203.86" y1="121.17" x2="205.84" y2="120.21" stroke="#000" stroke-width="3.7" stroke-linecap="round"/>
<line x1="210.95" y1="118.31" x2="213.04" y2="117.64" stroke="#000" stroke-width="3.7" stroke-linecap="round"/>
<line x1="218.13" y1="116.29" x2="220.23" y2="115.62" stroke="#000" stroke-width="3.7" stroke-linecap="round"/>
<line x1="226.17" y1="113.42" x2="228.29" y2="112.81" stroke="#000" stroke-width="3.7" stroke-linecap="round"/>
<line x1="233.03" y1="111.58" x2="235.17" y2="111.09" stroke="#000" stroke-width="3.7" stroke-linecap="round"/>
<line x1="241.07" y1="109.93" x2="243.21" y2="109.43" stroke="#000" stroke-width="3.7" stroke-linecap="round"/>
<line x1="248.43" y1="108.11" x2="250.55" y2="107.52" stroke="#000" stroke-width="3.7" stroke-linecap="round"/>
<line x1="255.2" y1="105.9" x2="257.32" y2="105.31" stroke="#000" stroke-width="3.7" stroke-linecap="round"/>
<line x1="263.26" y1="104.32" x2="265.42" y2="103.9" stroke="#000" stroke-width="3.7" stroke-linecap="round"/>
<line x1="270.47" y1="102.71" x2="272.64" y2="102.34" stroke="#000" stroke-width="3.7" stroke-linecap="round"/>
<line x1="277.57" y1="101.67" x2="279.75" y2="101.33" stroke="#000" stroke-width="3.7" stroke-linecap="round"/>
<line x1="285.71" y1="100.35" x2="287.85" y2="99.86" stroke="#000" stroke-width="3.7" stroke-linecap="round"/>
<line x1="293.51" y1="98.06" x2="295.65" y2="97.53" stroke="#000" stroke-width="3.7" stroke-linecap="round"/>
<line x1="300.43" y1="97.03" x2="302.61" y2="96.75" stroke="#000" stroke-width="3.7" stroke-linecap="round"/>
<line x1="308.75" y1="95.95" x2="310.94" y2="95.66" stroke="#000" stroke-width="3.7" stroke-linecap="round"/>
<line x1="317.4" y1="94.82" x2="319.59" y2="94.57" stroke="#000" stroke-width="3.7" stroke-linecap="round"/>
<line x1="324.68" y1="94.03" x2="326.87" y2="93.8" stroke="#000" stroke-width="3.7" stroke-linecap="round"/>
<line x1="333.32" y1="92.91" x2="335.49" y2="92.6" stroke="#000" stroke-width="3.7" stroke-linecap="round"/>
<line x1="339.67" y1="91.9" x2="341.85" y2="91.62" stroke="#000" stroke-width="3.7" stroke-linecap="round"/>
<line x1="347.24" y1="91.06" x2="349.43" y2="90.8" stroke="#000" stroke-width="3.7" stroke-linecap="round"/>
<line x1="353.46" y1="90.56" x2="355.65" y2="90.32" stroke="#000" stroke-width="3.7" stroke-linecap="round"/>
<line x1="358.49" y1="90" x2="360.68" y2="89.86" stroke="#000" stroke-width="3.7" stroke-linecap="round"/>
<line x1="365.85" y1="89.77" x2="368.05" y2="89.7" stroke="#000" stroke-width="3.7" stroke-linecap="round"/>
<line x1="372.26" y1="89.24" x2="374.46" y2="89.2" stroke="#000" stroke-width="3.7" stroke-linecap="round"/>
<line x1="378.02" y1="89.39" x2="380.22" y2="89.42" stroke="#000" stroke-width="3.7" stroke-linecap="round"/>
<line x1="383.81" y1="89.41" x2="386.01" y2="89.27" stroke="#000" stroke-width="3.7" stroke-linecap="round"/>
<line x1="390.63" y1="88.86" x2="392.81" y2="88.61" stroke="#000" stroke-width="3.7" stroke-linecap="round"/>
<line x1="395.9" y1="88.17" x2="398.09" y2="87.91" stroke="#000" stroke-width="3.7" stroke-linecap="round"/>
<polyline points="73.3,208.36 74.8,207.5 76.3,208.19 77.8,208.49 79.3,208.34 80.8,208.3 82.3,207.97 83.8,207.61 85.3,208.35 86.8,207.8 88.3,208.36 89.8,208.57 91.3,207.88 92.8,207.88 94.3,208.54 95.8,208.27 97.3,207.6 98.8,207.55 100.3,207.58" fill="none" stroke="#000" stroke-width="3.5"/>
<line x1="90" y1="205.5" x2="90" y2="211" stroke="#000" stroke-width="1.5"/>
<line x1="91.4" y1="204.5" x2="91.4" y2="212.5" stroke="#000" stroke-width="1.5"/>
<line x1="93.6" y1="202.4" x2="93.6" y2="216.4" stroke="#000" stroke-width="1.9"/>
<line x1="95.2" y1="204" x2="95.2" y2="213.5" stroke="#000" stroke-width="1.5"/>
<line x1="97.4" y1="205.5" x2="97.4" y2="211" stroke="#000" stroke-width="1.5"/>
<line x1="99.3" y1="205" x2="99.3" y2="212.5" stroke="#000" stroke-width="1.5"/>
<line x1="100.8" y1="196" x2="100.8" y2="212" stroke="#000" stroke-width="1.5"/>
<line x1="102" y1="194" x2="102" y2="211" stroke="#000" stroke-width="1.5"/>
<line x1="103.3" y1="193" x2="103.3" y2="210" stroke="#000" stroke-width="1.5"/>
<line x1="104.6" y1="192" x2="104.6" y2="218.5" stroke="#000" stroke-width="1.5"/>
<line x1="105.8" y1="193" x2="105.8" y2="209" stroke="#000" stroke-width="1.5"/>
<line x1="107" y1="194" x2="107" y2="206" stroke="#000" stroke-width="1.5"/>
<line x1="108" y1="196.5" x2="108" y2="202" stroke="#000" stroke-width="1.5"/>
<line x1="101.6" y1="183.4" x2="101.6" y2="203" stroke="#000" stroke-width="1.1"/>
<line x1="104.7" y1="209" x2="104.7" y2="218.5" stroke="#000" stroke-width="1.9"/>
<polyline points="74,489.92 76.04,489.85 78.07,489.32 80.11,489.86 82.14,489.98 84.18,489.73 86.21,489.48 88.25,489.64 90.29,489.3 92.32,489.21 94.36,489.98 96.39,489.72 98.43,489.62 100.46,489.95 102.5,489.55 102.56,487.8 102.63,485.66 102.69,483.07 102.75,481 102.82,478.93 102.88,476.79 102.95,474.97 103.01,472.61 103.07,470.64 103.14,468.3 103.2,466.5 103.31,466.41 103.46,466.36 103.63,466.26 103.83,466.05 104.06,465.66 104.3,465 104.57,464.07 104.87,462.91 105.19,461.57 105.53,460.08 105.87,458.48 106.2,456.8 106.53,454.99 106.87,453.01 107.21,450.91 107.54,448.77 107.88,446.64 108.2,444.6 108.52,442.6 108.83,440.6 109.14,438.61 109.44,436.67 109.73,434.79 110,433 110.24,431.34 110.46,429.81 110.66,428.34 110.86,426.88 111.07,425.39 111.3,423.8 111.55,422.1 111.81,420.33 112.08,418.52 112.35,416.7 112.62,414.92 112.9,413.2 113.16,411.58 113.42,410.04 113.68,408.52 113.95,407 114.25,405.4 114.6,403.7 115,401.85 115.44,399.89 115.92,397.87 116.41,395.83 116.91,393.82 117.4,391.9 117.89,390.05 118.38,388.25 118.88,386.47 119.38,384.73 119.89,383.01 120.4,381.3 120.92,379.6 121.44,377.9 121.97,376.23 122.5,374.59 123.05,373.01 123.6,371.5 124.14,370.15 124.65,368.96 125.17,367.83 125.73,366.64 126.36,365.3 127.1,363.7 127.97,361.74 128.94,359.49 129.99,357.08 131.07,354.66 132.15,352.35 133.2,350.3 134.22,348.5 135.26,346.84 136.29,345.31 137.32,343.87 138.32,342.5 139.3,341.2 140.24,339.95 141.14,338.79 142.02,337.69 142.9,336.68 143.78,335.75 144.7,334.9 145.6,334.17 146.48,333.56 147.36,333.03 148.3,332.54 149.33,332.04 150.5,331.87 151.83,330.78 153.3,330.27 154.86,329.77 156.47,329.45 158.1,328.41 159.7,328.28 161.29,327.32 162.9,326.78 164.52,326.2 166.15,325.2 167.78,325.05 169.4,324.31 171.02,323.68 172.63,323.94 174.25,322.95 175.87,322.81 177.48,322.66 179.1,322.15 180.69,321.62 182.26,321.51 183.82,321.27 185.42,321.23 187.07,320.38 188.8,320.55 190.68,320.03 192.7,319.8 194.77,320.01 196.81,319.55 198.75,319.41 200.5,319.43 202,319.46 203.32,318.96 204.53,319.06 205.7,318.94 206.94,318.96 208.3,319.17 209.78,319.07 211.32,319.34 212.91,319.51 214.55,320.15 216.25,320.1 218,320.34 219.86,320.38 221.83,319.69 223.85,319.83 225.87,320.02 227.84,319.76 229.7,318.97 231.43,318.81 233.08,318.93 234.67,318.42 236.24,318.4 237.81,318.07 239.4,318.45 241.02,318.4 242.63,318.33 244.25,317.5 245.87,317.86 247.48,317.7 249.1,317.18 250.72,317.85 252.33,317.98 253.95,317.4 255.57,318.17 257.18,317.79 258.8,317.99 260.42,318.57 262.03,318.58 263.64,318.15 265.26,318.54 266.88,318.74 268.5,318.66 270.13,318.54 271.76,318.62 273.4,318.92 275.04,318.21 276.67,318.61 278.3,318.45 279.9,318.02 281.46,318.25 283.01,318.47 284.6,318.32 286.25,317.86 288,318.64 289.78,318.39 291.56,318.48 293.4,317.63 295.37,317.7 297.55,317.43 300,318.05 302.74,317.56 305.71,317.42 308.89,317.67 312.23,318.12 315.72,318.05 319.3,317.58 323.05,317.54 327,318.31 331.09,318.09 335.24,318.3 339.4,317.85 343.5,317.9 347.58,318.55 351.72,318.4 355.86,318.17 359.96,319.02 363.95,318.8 367.8,318.97 371.71,318.3 375.76,318.93 379.72,318.13 383.34,318.76 386.38,318.31 388.6,318.16" fill="none" stroke="#000" stroke-width="2.1" stroke-linejoin="round"/>
<line x1="102.6" y1="466" x2="102.6" y2="488" stroke="#000" stroke-width="1.4"/>
<line x1="104.2" y1="470" x2="104.2" y2="484" stroke="#000" stroke-width="1.4"/>
<line x1="105.4" y1="474" x2="105.4" y2="486" stroke="#000" stroke-width="1.4"/>
<line x1="105.5" y1="483.48" x2="106.1" y2="478.52" stroke="#000" stroke-width="2.7" stroke-linecap="butt"/>
<line x1="106.31" y1="472.76" x2="107.29" y2="466.84" stroke="#000" stroke-width="2.7" stroke-linecap="butt"/>
<line x1="109.79" y1="458.84" x2="112.01" y2="451.16" stroke="#000" stroke-width="2.7" stroke-linecap="butt"/>
<line x1="114.97" y1="441.47" x2="117.03" y2="433.73" stroke="#000" stroke-width="2.7" stroke-linecap="butt"/>
<line x1="119.44" y1="424.7" x2="120.56" y2="418.3" stroke="#000" stroke-width="2.7" stroke-linecap="butt"/>
<line x1="121.18" y1="408.88" x2="123.02" y2="402.12" stroke="#000" stroke-width="2.7" stroke-linecap="butt"/>
<line x1="125.12" y1="397.66" x2="127.48" y2="392.14" stroke="#000" stroke-width="2.7" stroke-linecap="butt"/>
<line x1="130.12" y1="385.67" x2="133.08" y2="379.33" stroke="#000" stroke-width="2.7" stroke-linecap="butt"/>
<line x1="136.38" y1="372.76" x2="139.82" y2="367.24" stroke="#000" stroke-width="2.7" stroke-linecap="butt"/>
<line x1="146.67" y1="357.86" x2="151.33" y2="353.34" stroke="#000" stroke-width="2.7" stroke-linecap="butt"/>
<line x1="160.2" y1="346.81" x2="164.8" y2="343.79" stroke="#000" stroke-width="3.3" stroke-linecap="butt"/>
<line x1="172.7" y1="340.14" x2="177.7" y2="337.86" stroke="#000" stroke-width="3.3" stroke-linecap="butt"/>
<line x1="186.16" y1="334.59" x2="188.28" y2="333.98" stroke="#000" stroke-width="3.9" stroke-linecap="round"/>
<line x1="199.22" y1="331.34" x2="201.39" y2="330.99" stroke="#000" stroke-width="3.9" stroke-linecap="round"/>
<line x1="212.81" y1="329.88" x2="215.01" y2="329.73" stroke="#000" stroke-width="3.9" stroke-linecap="round"/>
<line x1="225.35" y1="329.54" x2="227.54" y2="329.41" stroke="#000" stroke-width="3.9" stroke-linecap="round"/>
<line x1="238.32" y1="327.9" x2="240.52" y2="327.86" stroke="#000" stroke-width="3.9" stroke-linecap="round"/>
<line x1="251.63" y1="328.47" x2="253.82" y2="328.56" stroke="#000" stroke-width="3.9" stroke-linecap="round"/>
<line x1="264.8" y1="328.75" x2="267" y2="328.67" stroke="#000" stroke-width="3.9" stroke-linecap="round"/>
<line x1="276.8" y1="327.93" x2="279" y2="327.84" stroke="#000" stroke-width="3.9" stroke-linecap="round"/>
<line x1="286.24" y1="328.1" x2="288.44" y2="328.13" stroke="#000" stroke-width="3.9" stroke-linecap="round"/>
<line x1="298.3" y1="328.1" x2="300.5" y2="328.1" stroke="#000" stroke-width="3.9" stroke-linecap="round"/>
<line x1="310.29" y1="328.29" x2="312.49" y2="328.28" stroke="#000" stroke-width="3.9" stroke-linecap="round"/>
<line x1="319.78" y1="328.23" x2="321.98" y2="328.22" stroke="#000" stroke-width="3.9" stroke-linecap="round"/>
<line x1="330.27" y1="328.04" x2="332.47" y2="328.03" stroke="#000" stroke-width="3.9" stroke-linecap="round"/>
<line x1="341.43" y1="328.11" x2="343.63" y2="328.09" stroke="#000" stroke-width="3.9" stroke-linecap="round"/>
<line x1="353.7" y1="328.18" x2="355.9" y2="328.16" stroke="#000" stroke-width="3.9" stroke-linecap="round"/>
<line x1="367.16" y1="327.95" x2="369.36" y2="327.93" stroke="#000" stroke-width="3.9" stroke-linecap="round"/>
<line x1="380.48" y1="328.03" x2="382.68" y2="328.01" stroke="#000" stroke-width="3.9" stroke-linecap="round"/>
<line x1="394.84" y1="327.85" x2="397.04" y2="327.83" stroke="#000" stroke-width="3.9" stroke-linecap="round"/>
<line x1="200" y1="205.5" x2="200" y2="233.5" stroke="#666" stroke-width="1.4"/>
<line x1="282.3" y1="206.3" x2="282.3" y2="234.3" stroke="#666" stroke-width="1.4"/>
<line x1="179.2" y1="220.9" x2="189.5" y2="220.9" stroke="#555" stroke-width="1.2"/>
<polygon points="187,218.3 195.5,220.9 187,223.5" fill="#000"/>
<line x1="292.6" y1="220.9" x2="301.7" y2="220.9" stroke="#555" stroke-width="1.2"/>
<polygon points="295.1,218.3 286.6,220.9 295.1,223.5" fill="#000"/>
<text x="245.2" y="226.2" class="lg" text-anchor="middle">50 s</text>
<line x1="257.9" y1="481.8" x2="257.9" y2="510.8" stroke="#666" stroke-width="1.4"/>
<line x1="339.8" y1="482.8" x2="339.8" y2="511.8" stroke="#666" stroke-width="1.4"/>
<line x1="236.8" y1="497.6" x2="247.3" y2="497.6" stroke="#555" stroke-width="1.2"/>
<polygon points="244.8,495 253.3,497.6 244.8,500.2" fill="#000"/>
<line x1="348" y1="497.6" x2="357.8" y2="497.6" stroke="#555" stroke-width="1.2"/>
<polygon points="350.5,495 342,497.6 350.5,500.2" fill="#000"/>
<text x="302.7" y="501.2" class="lg" text-anchor="middle">4 s</text>
<text x="226" y="160.6" class="lp">(1):</text>
<text x="226" y="178.4" class="lp">(2):</text>
<line x1="260.4" y1="156.3" x2="268" y2="156.3" stroke="#000" stroke-width="3.0"/>
<line x1="276.4" y1="156.3" x2="284.2" y2="156.3" stroke="#000" stroke-width="3.0"/>
<line x1="260.4" y1="174.2" x2="292.2" y2="174.2" stroke="#000" stroke-width="1.9"/>
<text x="299.5" y="160.7" class="lg0">sample</text><text x="353.3" y="160.7" class="lq">"A"</text>
<text x="299.5" y="178.4" class="lg0">sample</text><text x="353.3" y="178.4" class="lq">"B"</text>
<text x="226" y="416.0" class="lp">(3):</text>
<text x="226" y="433.5" class="lp">(4):</text>
<line x1="260.2" y1="411.5" x2="267.6" y2="411.5" stroke="#000" stroke-width="3.0"/>
<line x1="276.3" y1="411.5" x2="284.1" y2="411.5" stroke="#000" stroke-width="3.0"/>
<line x1="260.2" y1="429.4" x2="291.8" y2="429.4" stroke="#000" stroke-width="1.9"/>
<text x="299.3" y="416.0" class="lg0">sample</text><text x="353.1" y="416.0" class="lq">"A"</text>
<text x="299.3" y="433.5" class="lg0">sample</text><text x="353.1" y="433.5" class="lq">"B"</text>
<text x="88.3" y="41.0" class="pl">(a)</text>
<text x="88.9" y="323.9" class="pl">(b)</text>
<text transform="translate(16.3,125.6) rotate(-90)" class="ax" text-anchor="middle">G (μS)</text>
<text transform="translate(16.6,397.9) rotate(-90)" class="ax" text-anchor="middle">G (μS)</text>
<text x="237.7" y="545.9" class="ax" text-anchor="middle" style="letter-spacing:0.2px">Time</text>
</svg>
</body></html>
